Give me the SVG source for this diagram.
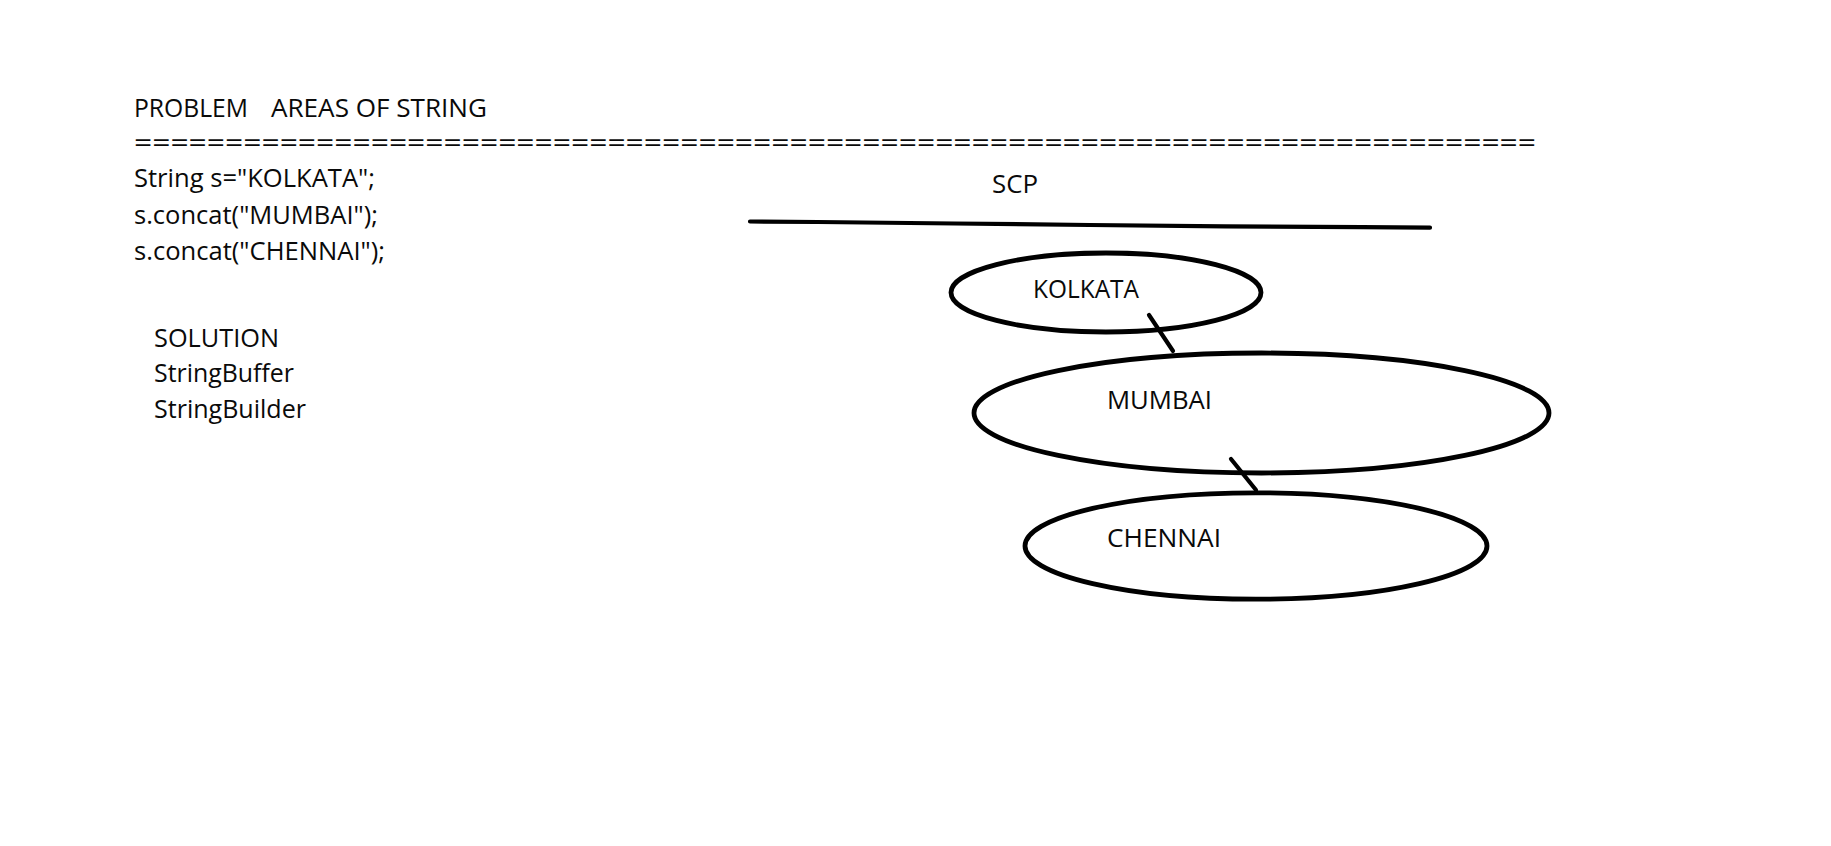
<svg xmlns="http://www.w3.org/2000/svg" width="1831" height="846" viewBox="0 0 1831 846">
<style>
text{font-family:"Open Sans","Noto Sans","Liberation Sans",sans-serif;font-size:25px;fill:#0a0a0a;}
.node ellipse{fill:none;stroke:#000;stroke-width:4.8;}
.conn line,.conn polyline{stroke:#000;stroke-width:4.2;stroke-linecap:round;fill:none;}
</style>
<rect width="1831" height="846" fill="#fff"/>
<g id="code">
<text y="117"><tspan x="134" textLength="114" lengthAdjust="spacingAndGlyphs">PROBLEM</tspan><tspan x="271" textLength="216" lengthAdjust="spacingAndGlyphs">AREAS OF STRING</tspan></text>
<text x="134" y="152" textLength="1402" lengthAdjust="spacingAndGlyphs">=============================================================================</text>
<text x="134" y="187" textLength="241" lengthAdjust="spacingAndGlyphs">String s="KOLKATA";</text>
<text x="134" y="223.5" textLength="244" lengthAdjust="spacingAndGlyphs">s.concat("MUMBAI");</text>
<text x="134" y="259.5" textLength="251" lengthAdjust="spacingAndGlyphs">s.concat("CHENNAI");</text>
</g>
<g id="solution">
<text x="154" y="346.5" textLength="125" lengthAdjust="spacingAndGlyphs">SOLUTION</text>
<text x="154" y="382" textLength="140" lengthAdjust="spacingAndGlyphs">StringBuffer</text>
<text x="154" y="417.5" textLength="152" lengthAdjust="spacingAndGlyphs">StringBuilder</text>
</g>
<g id="scp">
<text x="992" y="193" textLength="46" lengthAdjust="spacingAndGlyphs">SCP</text>
</g>
<g class="conn" id="connectors">
<polyline points="750,221.5 818,222 955,223.5 1090,225 1225,226.3 1362,227.2 1430,227.7"/>
<line x1="1149" y1="315" x2="1173" y2="351"/>
<line x1="1231" y1="459" x2="1256" y2="490"/>
</g>
<g class="node" id="kolkata">
<ellipse cx="1106" cy="292.5" rx="155" ry="39.5"/>
<text x="1033" y="297.5" textLength="106" lengthAdjust="spacingAndGlyphs">KOLKATA</text>
</g>
<g class="node" id="mumbai">
<ellipse cx="1261.5" cy="413" rx="287.5" ry="60"/>
<text x="1107" y="408.5" textLength="105" lengthAdjust="spacingAndGlyphs">MUMBAI</text>
</g>
<g class="node" id="chennai">
<ellipse cx="1256" cy="546" rx="231" ry="53.2"/>
<text x="1107" y="547" textLength="114" lengthAdjust="spacingAndGlyphs">CHENNAI</text>
</g>
</svg>
